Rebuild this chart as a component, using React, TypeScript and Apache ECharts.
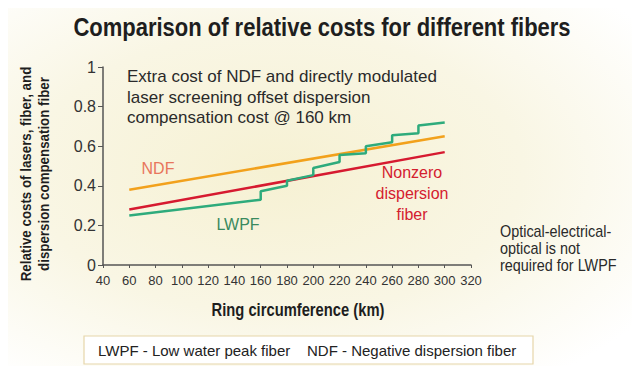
import React, { useEffect, useRef } from "react";
import * as echarts from "echarts";

const xTicks = { min: 40, max: 320, interval: 20 };
const yTicks = { min: 0, max: 1, interval: 0.2 };

const ndfX = [60, 300];
const ndfY = [0.38, 0.65];

const nzdfX = [60, 300];
const nzdfY = [0.28, 0.57];

const lwpfX = [60, 160, 160, 180, 180, 200, 200, 220, 220, 240, 240, 260, 260, 280, 280, 300];
const lwpfY = [0.25, 0.33, 0.372, 0.4, 0.426, 0.454, 0.49, 0.52, 0.555, 0.565, 0.6, 0.62, 0.655, 0.665, 0.705, 0.72];

const title = "Comparison of relative costs for different fibers";
const yName = "Relative costs of lasers, fiber, and\ndispersion compensation fiber";
const xName = "Ring circumference (km)";
const noteTop = "Extra cost of NDF and directly modulated\nlaser screening offset dispersion\ncompensation cost @ 160 km";
const noteRight = "Optical-electrical-\noptical is not\nrequired for LWPF";
const legendText1 = "LWPF - Low water peak fiber";
const legendText2 = "NDF - Negative dispersion fiber";

const zip = (xs: number[], ys: number[]) => xs.map((x, i) => [x, ys[i]]);

export default function App() {
  const ref = useRef<HTMLDivElement>(null);
  useEffect(() => {
    if (!ref.current) return;
    const chart = echarts.init(ref.current, undefined, { renderer: "svg" });
    const font = "'Liberation Sans', Arial, sans-serif";
    chart.setOption({
      animation: false,
      backgroundColor: new echarts.graphic.RadialGradient(0.42, 0.45, 0.7, [
        { offset: 0, color: "#f6f1d3" },
        { offset: 0.55, color: "#f9f6e4" },
        { offset: 1, color: "#ffffff" },
      ]),
      grid: { left: 95, right: 177, top: 59, bottom: 109 },
      xAxis: {
        type: "value",
        min: xTicks.min,
        max: xTicks.max,
        interval: xTicks.interval,
        axisLine: { show: true, lineStyle: { color: "#555", width: 1.5 } },
        axisTick: { show: true, length: 3, lineStyle: { color: "#555" } },
        splitLine: { show: false },
        axisLabel: { color: "#333", fontSize: 13, fontFamily: font, margin: 9 },
      },
      yAxis: {
        type: "value",
        min: yTicks.min,
        max: yTicks.max,
        interval: yTicks.interval,
        axisLine: { show: true, lineStyle: { color: "#555", width: 1.5 } },
        axisTick: { show: true, length: 5, lineStyle: { color: "#555" } },
        splitLine: { show: false },
        axisLabel: { color: "#333", fontSize: 16, fontFamily: font, margin: 7 },
      },
      series: [
        {
          type: "line",
          data: zip(ndfX, ndfY),
          symbol: "none",
          lineStyle: { color: "#f2a11c", width: 2.5 },
        },
        {
          type: "line",
          data: zip(nzdfX, nzdfY),
          symbol: "none",
          lineStyle: { color: "#d61a30", width: 2.5 },
        },
        {
          type: "line",
          data: zip(lwpfX, lwpfY),
          symbol: "none",
          lineStyle: { color: "#2eab7c", width: 2.5 },
        },
      ],
      graphic: [
        {
          type: "text",
          x: 314,
          y: 20,
          scaleX: 0.88,
          style: {
            text: title,
            fontFamily: font,
            fontWeight: "bold",
            fontSize: 25,
            fill: "#1e1e1e",
            align: "center",
            verticalAlign: "middle",
          },
        },
        {
          type: "text",
          x: 27,
          y: 166,
          rotation: Math.PI / 2,
          scaleX: 0.86,
          style: {
            text: yName,
            fontFamily: font,
            fontWeight: "bold",
            fontSize: 15.5,
            lineHeight: 18,
            fill: "#1e1e1e",
            align: "center",
            verticalAlign: "middle",
          },
        },
        {
          type: "text",
          x: 290,
          y: 301,
          scaleX: 0.82,
          style: {
            text: xName,
            fontFamily: font,
            fontWeight: "bold",
            fontSize: 18,
            fill: "#1e1e1e",
            align: "center",
            verticalAlign: "middle",
          },
        },
        {
          type: "text",
          x: 119,
          y: 89,
          style: {
            text: noteTop,
            fontFamily: font,
            fontSize: 17,
            lineHeight: 20.5,
            fill: "#2a2a2a",
            align: "left",
            verticalAlign: "middle",
          },
        },
        {
          type: "text",
          x: 492,
          y: 240,
          scaleX: 0.9,
          style: {
            text: noteRight,
            fontFamily: font,
            fontSize: 16,
            lineHeight: 17,
            fill: "#2a2a2a",
            align: "left",
            verticalAlign: "middle",
          },
        },
        {
          type: "text",
          x: 150,
          y: 160,
          style: {
            text: "NDF",
            fontFamily: font,
            fontSize: 16,
            fill: "#e8765c",
            align: "center",
            verticalAlign: "middle",
          },
        },
        {
          type: "text",
          x: 230,
          y: 216,
          style: {
            text: "LWPF",
            fontFamily: font,
            fontSize: 16,
            fill: "#3a8a5e",
            align: "center",
            verticalAlign: "middle",
          },
        },
        {
          type: "text",
          x: 404,
          y: 185,
          style: {
            text: "Nonzero\ndispersion\nfiber",
            fontFamily: font,
            fontSize: 16,
            lineHeight: 21,
            fill: "#d4202f",
            align: "center",
            verticalAlign: "middle",
          },
        },
        {
          type: "rect",
          shape: { x: 76, y: 328, width: 449, height: 28 },
          style: { fill: "#ffffff", stroke: "#e6d6aa", lineWidth: 1.2 },
        },
        {
          type: "text",
          x: 90,
          y: 342,
          style: {
            text: legendText1,
            fontFamily: font,
            fontSize: 15,
            fill: "#222",
            align: "left",
            verticalAlign: "middle",
          },
        },
        {
          type: "text",
          x: 299,
          y: 342,
          style: {
            text: legendText2,
            fontFamily: font,
            fontSize: 15,
            fill: "#222",
            align: "left",
            verticalAlign: "middle",
          },
        },
      ],
    });
    return () => chart.dispose();
  }, []);
  return <div ref={ref} style={{ width: 640, height: 366 }} />;
}
